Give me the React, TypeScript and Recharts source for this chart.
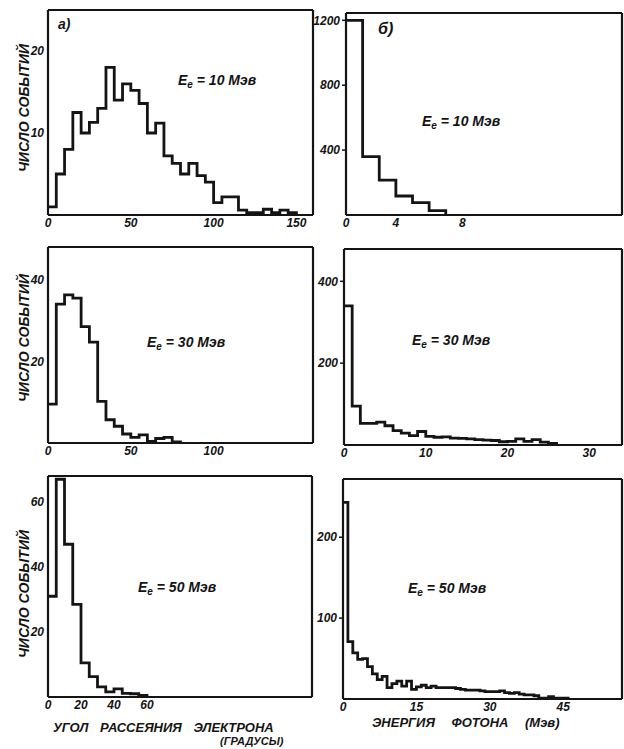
import { Line, LineChart, ReferenceLine, XAxis, YAxis } from 'recharts'

// угол рассеяния электрона, бины по 5 градусов
const angleBin = 5
const angle10 = [1, 5, 8, 12.5, 10, 11.3, 13, 18, 14, 16, 15.2, 13.6, 10, 11.2, 7.2, 6.3, 5, 6.3, 4.8, 4, 1.5, 2.2, 2.2, 0.6, 0.3, 0.3, 0.7, 0.3, 0.6, 0.3]
const angle30 = [9.5, 34, 36.3, 35.5, 28.5, 24.7, 10.2, 5.7, 4.1, 2.2, 1.4, 2, 0.4, 1.1, 1.4, 0.3]
const angle50 = [31, 67, 47, 28.5, 10.5, 6.3, 3.1, 1.6, 2.5, 1.1, 1, 0.5]

// энергия фотона, бины по 1 Мэв
const photonBin = 1
const photon10 = [1200, 360, 215, 117, 76, 27]
const photon30 = [340, 95, 53, 53, 56, 47, 35, 29, 23, 33, 21, 19, 20, 17, 16, 15, 13, 12, 11, 8, 9, 15, 9, 13, 7, 4]
const photon50 = [243, 71, 57, 49, 50, 40, 31, 24, 28, 14, 19, 22, 16, 22, 12, 15, 17, 14, 16, 14, 14, 14, 14, 13, 12, 11, 11, 11, 10, 9, 9, 9, 10, 8, 7, 8, 6, 5, 5, 4, 1, 1, 3, 1, 1, 1]

const yTitle = 'ЧИСЛО СОБЫТИЙ'
const angleTitle = 'УГОЛ РАССЕЯНИЯ ЭЛЕКТРОНА'
const angleUnit = '(ГРАДУСЫ)'
const photonTitle = 'ЭНЕРГИЯ ФОТОНА (Мэв)'

const ink = '#141414'
const font = "'Liberation Sans', 'DejaVu Sans', sans-serif"
const tickStyle = { fill: ink, fontSize: 12, fontWeight: 700, fontStyle: 'italic', fontFamily: font }

const toSteps = (counts: number[], start: number, width: number) => {
	const rows = counts.map((n, i) => ({ x: start + i * width, n }))
	rows.push({ x: start + counts.length * width, n: 0 })
	return rows
}

type PanelProps = {
	left: number
	top: number
	w: number
	h: number
	data: { x: number; n: number }[]
	xDomain: [number, number]
	yDomain: [number, number]
	xTicks: number[]
	yTicks: number[]
	xFormat?: (v: number) => string
	yTickLine?: boolean
}

function Panel(p: PanelProps) {
	const padL = 44
	const padT = 4
	const padR = 4
	const padB = 20
	const frame = { stroke: ink, strokeWidth: 2.2 }
	return (
		<div style={{ position: 'absolute', left: p.left - padL, top: p.top - padT }}>
			<LineChart
				width={p.w + padL + padR}
				height={p.h + padT + padB}
				data={p.data}
				margin={{ top: padT, right: padR, bottom: 0, left: 0 }}
			>
				<XAxis
					dataKey='x'
					type='number'
					domain={p.xDomain}
					ticks={p.xTicks}
					allowDataOverflow
					height={padB}
					axisLine={frame}
					tickLine={false}
					tickSize={1}
					tick={tickStyle}
					tickFormatter={p.xFormat}
					interval={0}
				/>
				<YAxis
					type='number'
					domain={p.yDomain}
					ticks={p.yTicks}
					allowDataOverflow
					width={padL}
					axisLine={frame}
					tickLine={p.yTickLine ? { stroke: ink, strokeWidth: 1.5 } : false}
					tickSize={p.yTickLine ? 4 : 2}
					tick={tickStyle}
					interval={0}
				/>
				{/* верх и правый край рамки */}
				<ReferenceLine y={p.yDomain[1]} stroke={ink} strokeWidth={2.2} ifOverflow='visible' />
				<ReferenceLine x={p.xDomain[1]} stroke={ink} strokeWidth={2.2} ifOverflow='visible' />
				<Line
					type='stepAfter'
					dataKey='n'
					stroke={ink}
					strokeWidth={2.8}
					dot={false}
					activeDot={false}
					isAnimationActive={false}
				/>
			</LineChart>
		</div>
	)
}

const textBase = {
	position: 'absolute' as const,
	fontFamily: font,
	fontStyle: 'italic',
	fontWeight: 700,
	color: ink,
	whiteSpace: 'nowrap' as const,
	lineHeight: 1,
}

function Energy({ left, top, mev }: { left: number; top: number; mev: number }) {
	return (
		<div style={{ ...textBase, left, top, fontSize: 14 }}>
			E<span style={{ fontSize: 10, position: 'relative', top: 3 }}>e</span>
			{` = ${mev} Мэв`}
		</div>
	)
}

function YTitle({ cy }: { cy: number }) {
	return (
		<div
			style={{
				...textBase,
				left: 24,
				top: cy,
				fontSize: 14,
				transform: 'translate(-50%, -50%) rotate(-90deg)',
			}}
		>
			{yTitle}
		</div>
	)
}

export default function App() {
	return (
		<div
			style={{
				position: 'absolute',
				left: 0,
				top: 0,
				width: 624,
				height: 749,
				background: '#fff',
				overflow: 'hidden',
			}}
		>
			<Panel
				left={48}
				top={10}
				w={265}
				h={205}
				data={toSteps(angle10, 0, angleBin)}
				xDomain={[0, 160]}
				yDomain={[0, 25]}
				xTicks={[0, 50, 100, 150]}
				yTicks={[10, 20]}
			/>
			<Panel
				left={48}
				top={247}
				w={265}
				h={196}
				data={toSteps(angle30, 0, angleBin)}
				xDomain={[0, 160]}
				yDomain={[0, 48]}
				xTicks={[0, 50, 100]}
				yTicks={[20, 40]}
			/>
			<Panel
				left={48}
				top={476}
				w={264}
				h={221}
				data={toSteps(angle50, 0, angleBin)}
				xDomain={[0, 160]}
				yDomain={[0, 68]}
				xTicks={[0, 20, 40, 60]}
				yTicks={[20, 40, 60]}
			/>
			<Panel
				left={346}
				top={13}
				w={276}
				h={202}
				data={toSteps(photon10, 1, photonBin)}
				xDomain={[1, 17.6]}
				yDomain={[0, 1245]}
				xTicks={[1, 4, 8]}
				xFormat={v => (v === 1 ? '0' : String(v))}
				yTicks={[400, 800, 1200]}
				yTickLine
			/>
			<Panel
				left={344}
				top={249}
				w={278}
				h={196}
				data={toSteps(photon30, 0, photonBin)}
				xDomain={[0, 34]}
				yDomain={[0, 479]}
				xTicks={[0, 10, 20, 30]}
				yTicks={[200, 400]}
				yTickLine
			/>
			<Panel
				left={343}
				top={479}
				w={279}
				h={220}
				data={toSteps(photon50, 0, photonBin)}
				xDomain={[0, 57]}
				yDomain={[0, 272]}
				xTicks={[0, 15, 30, 45]}
				yTicks={[100, 200]}
				yTickLine
			/>

			<div style={{ ...textBase, left: 58, top: 17, fontSize: 14 }}>а)</div>
			<div style={{ ...textBase, left: 378, top: 21, fontSize: 16 }}>б)</div>

			<Energy left={178} top={73} mev={10} />
			<Energy left={422} top={114} mev={10} />
			<Energy left={147} top={335} mev={30} />
			<Energy left={412} top={333} mev={30} />
			<Energy left={138} top={580} mev={50} />
			<Energy left={408} top={581} mev={50} />

			<YTitle cy={108} />
			<YTitle cy={338} />
			<YTitle cy={594} />

			<div style={{ ...textBase, left: 53, top: 721, fontSize: 13, wordSpacing: 8 }}>{angleTitle}</div>
			<div style={{ ...textBase, left: 220, top: 736, fontSize: 11 }}>{angleUnit}</div>
			<div style={{ ...textBase, left: 372, top: 716, fontSize: 13, wordSpacing: 13 }}>{photonTitle}</div>
		</div>
	)
}
